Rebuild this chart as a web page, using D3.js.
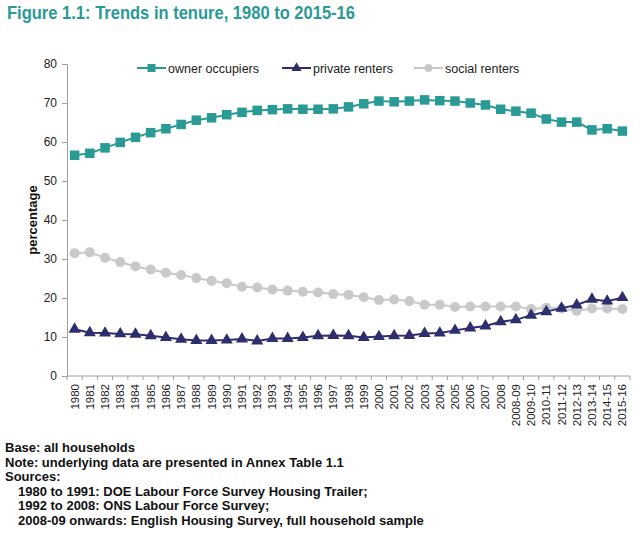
<!DOCTYPE html>
<html>
<head>
<meta charset="utf-8">
<script src="https://cdn.jsdelivr.net/npm/d3@7"></script>
<style>
  body { margin: 0; background: #fff; }
  svg { display: block; font-family: "Liberation Sans", Arial, sans-serif; }
</style>
</head>
<body>
<svg id="chart" width="640" height="535"></svg>
<script>
// Trends in tenure, 1980 to 2015-16

const years = ['1980', '1981', '1982', '1983', '1984', '1985', '1986', '1987', '1988', '1989',
    '1990', '1991', '1992', '1993', '1994', '1995', '1996', '1997', '1998', '1999',
    '2000', '2001', '2002', '2003', '2004', '2005', '2006', '2007', '2008',
    '2008-09', '2009-10', '2010-11', '2011-12', '2012-13', '2013-14', '2014-15', '2015-16'];

const ownerOccupiers = [56.6, 57.1, 58.5, 59.9, 61.2, 62.4, 63.4, 64.5, 65.6, 66.2,
    67.0, 67.6, 68.1, 68.3, 68.5, 68.4, 68.4, 68.5, 69.0, 69.8,
    70.5, 70.3, 70.5, 70.8, 70.6, 70.5, 70.0, 69.5, 68.4,
    67.9, 67.4, 65.9, 65.1, 65.1, 63.1, 63.4, 62.8];

const privateRenters = [12.0, 11.1, 11.0, 10.8, 10.7, 10.3, 9.9, 9.4, 9.1, 9.1,
    9.2, 9.5, 9.0, 9.6, 9.6, 9.9, 10.3, 10.4, 10.3, 9.9,
    10.1, 10.3, 10.4, 10.9, 11.0, 11.7, 12.3, 12.8, 13.9,
    14.4, 15.6, 16.5, 17.4, 18.2, 19.7, 19.2, 20.1];

const socialRenters = [31.5, 31.7, 30.3, 29.2, 28.1, 27.3, 26.5, 25.9, 25.1, 24.4,
    23.8, 22.9, 22.7, 22.2, 21.9, 21.6, 21.4, 21.0, 20.8, 20.2,
    19.5, 19.6, 19.2, 18.3, 18.3, 17.7, 17.8, 17.8, 17.8,
    17.8, 17.2, 17.5, 17.3, 16.7, 17.3, 17.3, 17.2];

const yTicks = [0, 10, 20, 30, 40, 50, 60, 70, 80];

const footnotes = [
    { text: 'Base: all households', indent: false },
    { text: 'Note: underlying data are presented in Annex Table 1.1', indent: false },
    { text: 'Sources:', indent: false },
    { text: '1980 to 1991: DOE Labour Force Survey Housing Trailer;', indent: true },
    { text: '1992 to 2008: ONS Labour Force Survey;', indent: true },
    { text: '2008-09 onwards: English Housing Survey, full household sample', indent: true }
];

const series = [
    { name: 'owner occupiers', values: ownerOccupiers, color: '#2a9a94', marker: 'square' },
    { name: 'private renters', values: privateRenters, color: '#2e2d6e', marker: 'triangle' },
    { name: 'social renters', values: socialRenters, color: '#c9c9c9', marker: 'circle' }
];

const svg = d3.select('#chart');
const margin = { top: 64, left: 67, right: 10 };
const plotRight = 630;
const plotBottom = 376;

const x = d3.scaleBand()
    .domain(years)
    .range([margin.left, plotRight]);

const y = d3.scaleLinear()
    .domain([0, 80])
    .range([plotBottom, margin.top]);

// Title
svg.append('text')
    .attr('x', 7)
    .attr('y', 19)
    .attr('textLength', 348)
    .attr('lengthAdjust', 'spacingAndGlyphs')
    .style('fill', '#2a9a94')
    .style('font-size', '17.5px')
    .style('font-weight', 'bold')
    .text('Figure 1.1: Trends in tenure, 1980 to 2015-16');

// Y axis
const yAxis = svg.append('g')
    .attr('transform', `translate(${margin.left},0)`)
    .call(d3.axisLeft(y).tickValues(yTicks).tickSize(5).tickPadding(5));
yAxis.selectAll('path, line').attr('stroke', '#a0a0a0');
yAxis.selectAll('text').style('font-size', '12px').attr('fill', '#222');

// X axis: ticks sit on the category boundaries
const xAxis = svg.append('g')
    .attr('transform', `translate(0,${plotBottom})`);
xAxis.append('line')
    .attr('x1', margin.left).attr('x2', plotRight)
    .attr('stroke', '#a0a0a0');
xAxis.selectAll('.bound')
    .data(years.concat(['end']))
    .enter()
    .append('line')
    .attr('x1', (d, i) => i < years.length ? x(d) : x(years[years.length - 1]) + x.bandwidth())
    .attr('x2', (d, i) => i < years.length ? x(d) : x(years[years.length - 1]) + x.bandwidth())
    .attr('y1', 0).attr('y2', 4)
    .attr('stroke', '#a0a0a0');
xAxis.selectAll('.label')
    .data(years)
    .enter()
    .append('text')
    .attr('transform', d => `translate(${x(d) + x.bandwidth() / 2 + 4},8) rotate(-90)`)
    .attr('text-anchor', 'end')
    .style('font-size', '11.5px')
    .attr('fill', '#222')
    .text(d => d);

// Y axis title
svg.append('text')
    .attr('transform', `translate(37,${(margin.top + plotBottom) / 2}) rotate(-90)`)
    .attr('text-anchor', 'middle')
    .style('font-size', '13px')
    .style('font-weight', 'bold')
    .attr('fill', '#111')
    .text('percentage');

const cx = (d, i) => x(years[i]) + x.bandwidth() / 2;

function drawMarker(sel, s, size) {
    if (s.marker === 'square') {
        sel.append('rect')
            .attr('x', -size / 2).attr('y', -size / 2)
            .attr('width', size).attr('height', size)
            .attr('fill', s.color);
    } else if (s.marker === 'triangle') {
        sel.append('path')
            .attr('d', d3.symbol().type(d3.symbolTriangle).size(size * size * 0.7)())
            .attr('fill', s.color);
    } else {
        sel.append('circle')
            .attr('r', size / 2)
            .attr('fill', s.color);
    }
}

// Lines and markers (draw social first so the others sit on top)
const line = d3.line()
    .x(cx)
    .y(d => y(d));

[series[2], series[1], series[0]].forEach(s => {
    svg.append('path')
        .datum(s.values)
        .attr('d', line)
        .attr('fill', 'none')
        .attr('stroke', s.color)
        .attr('stroke-width', 2);

    svg.selectAll(null)
        .data(s.values)
        .enter()
        .append('g')
        .attr('transform', (d, i) => `translate(${cx(d, i)},${y(d)})`)
        .each(function () { drawMarker(d3.select(this), s, s.marker === 'circle' ? 10 : 9.5); });
});

// Legend
const legendPos = [137, 282, 414];
const legend = svg.append('g').attr('transform', 'translate(0,68)');
series.forEach((s, i) => {
    const g = legend.append('g').attr('transform', `translate(${legendPos[i]},0)`);
    g.append('line')
        .attr('x1', 0).attr('x2', 29)
        .attr('stroke', s.color)
        .attr('stroke-width', 2);
    const m = g.append('g').attr('transform', 'translate(14.5,0)');
    drawMarker(m, s, 8);
    g.append('text')
        .attr('x', 31)
        .attr('y', 4.5)
        .style('font-size', '12.5px')
        .attr('fill', '#222')
        .text(s.name);
});

// Footnotes
svg.selectAll('.foot')
    .data(footnotes)
    .enter()
    .append('text')
    .attr('x', d => d.indent ? 18 : 5)
    .attr('y', (d, i) => 452 + i * 14.6)
    .style('font-size', '13px')
    .style('font-weight', 'bold')
    .attr('fill', '#111')
    .text(d => d.text);
</script>
</body>
</html>
